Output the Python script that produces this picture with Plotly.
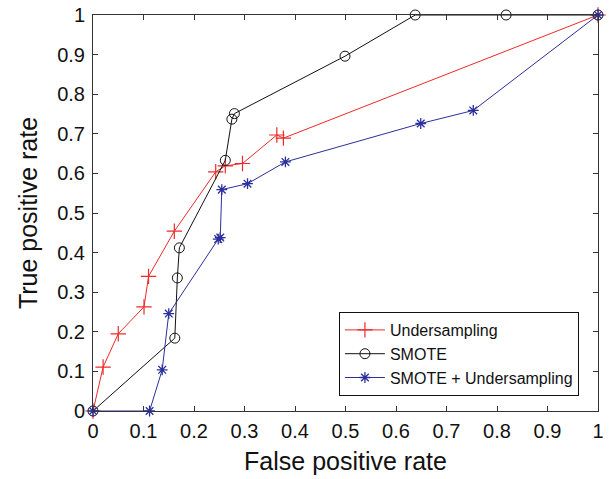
import plotly.graph_objects as go

under_x = [0, 0.02, 0.05, 0.101, 0.110, 0.161, 0.243, 0.262, 0.296, 0.364, 0.377, 1]
under_y = [0, 0.111, 0.195, 0.263, 0.340, 0.454, 0.604, 0.619, 0.625, 0.697, 0.689, 1]

smote_x = [0, 0.162, 0.167, 0.171, 0.262, 0.275, 0.280, 0.499, 0.638, 0.818, 1]
smote_y = [0, 0.184, 0.336, 0.412, 0.633, 0.737, 0.751, 0.896, 1.0, 1.0, 1]

both_x = [0, 0.112, 0.137, 0.150, 0.248, 0.252, 0.255, 0.306, 0.381, 0.649, 0.753, 1]
both_y = [0, 0, 0.104, 0.246, 0.434, 0.438, 0.559, 0.574, 0.629, 0.726, 0.759, 1]

tick_vals = [0, 0.1, 0.2, 0.3, 0.4, 0.5, 0.6, 0.7, 0.8, 0.9, 1]
tick_text = ["0", "0.1", "0.2", "0.3", "0.4", "0.5", "0.6", "0.7", "0.8", "0.9", "1"]

RED = "#ee2a2a"
BLACK = "#111111"
BLUE = "#2b2f9c"

fig = go.Figure()
fig.add_trace(go.Scatter(x=under_x, y=under_y, mode="lines+markers", name="Undersampling",
                         line=dict(color=RED, width=1),
                         marker=dict(symbol="cross-thin-open", size=11, color=RED,
                                     line=dict(color=RED, width=1.2)),
                         cliponaxis=False))
fig.add_trace(go.Scatter(x=smote_x, y=smote_y, mode="lines+markers", name="SMOTE",
                         line=dict(color=BLACK, width=1),
                         marker=dict(symbol="circle-open", size=10, color=BLACK,
                                     line=dict(color=BLACK, width=1)),
                         cliponaxis=False))
fig.add_trace(go.Scatter(x=both_x, y=both_y, mode="lines+markers", name="SMOTE + Undersampling",
                         line=dict(color=BLUE, width=1),
                         marker=dict(symbol="asterisk-open", size=9, color=BLUE,
                                     line=dict(color=BLUE, width=1.3)),
                         cliponaxis=False))

axis_common = dict(range=[0, 1], tickvals=tick_vals, ticktext=tick_text,
                   ticks="inside", ticklen=5, tickcolor="#333333",
                   showline=True, linecolor="#333333", linewidth=1, mirror="ticks",
                   showgrid=False, zeroline=False, automargin=False,
                   tickfont=dict(family="Liberation Sans, Arial", size=20, color="#111111"))

fig.update_layout(
    width=611, height=479,
    margin=dict(l=93, r=13, t=15, b=68),
    paper_bgcolor="white", plot_bgcolor="white",
    font=dict(family="Liberation Sans, Arial", color="#111111"),
    xaxis=dict(**axis_common, ticklabelstandoff=2,
               title=dict(text="False positive rate", font=dict(size=25), standoff=11)),
    yaxis=dict(**axis_common, ticklabelstandoff=3,
               title=dict(text="True positive rate", font=dict(size=25), standoff=12)),
    legend=dict(x=0.487, y=0.25, xanchor="left", yanchor="top",
                bordercolor="#111111", borderwidth=1, bgcolor="white",
                font=dict(size=16), tracegroupgap=0, itemwidth=40),
    showlegend=True,
)

fig.write_html("out.html")
